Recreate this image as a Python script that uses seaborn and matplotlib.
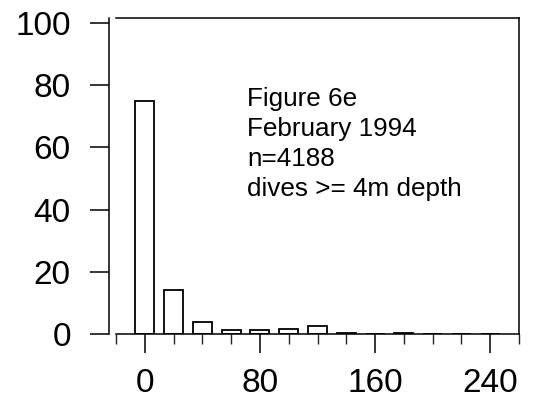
import matplotlib
matplotlib.use("Agg")
import matplotlib.pyplot as plt
import seaborn as sns
import pandas as pd
from matplotlib.ticker import MultipleLocator

# Data (bin centres and percentage of dives)
bins = [0, 20, 40, 60, 80, 100, 120, 140, 160, 180, 200, 220, 240]
percent = [75.0, 14.3, 3.8, 1.3, 1.3, 1.6, 2.7, 0.4, 0.1, 0.2, 0.0, 0.0, 0.0]
x_ticks = [0, 80, 160, 240]
y_ticks = [0, 20, 40, 60, 80, 100]
note_lines = ["Figure 6e", "February 1994", "n=4188", "dives >= 4m depth"]

sns.set_style("ticks")
plt.rcParams["font.family"] = ["Liberation Sans", "DejaVu Sans"]

W, H = 534, 412
fig = plt.figure(figsize=(W / 100, H / 100), dpi=100)
ax = fig.add_axes([116 / W, (H - 334) / H, (519 - 116) / W, (334 - 18) / H])

df = pd.DataFrame({"bin": bins, "pct": percent})
sns.barplot(data=df, x="bin", y="pct", native_scale=True, width=0.66,
            color="white", edgecolor="black", linewidth=1.3,
            errorbar=None, ax=ax)

ax.set_xlim(-20, 260)
ax.set_ylim(0, 101.6)
ax.set_xticks(x_ticks)
ax.set_xticklabels([str(v) for v in x_ticks])
ax.xaxis.set_minor_locator(MultipleLocator(20))
ax.set_yticks(y_ticks)
ax.set_yticklabels([str(v) for v in y_ticks])
ax.set_xlabel("")
ax.set_ylabel("")

for s in ax.spines.values():
    s.set_visible(True)
    s.set_linewidth(1.1)
    s.set_color("black")
ax.spines["left"].set_position(("outward", 5))

ax.tick_params(axis="both", which="major", direction="out", length=13.5,
               width=1.1, labelsize=24, colors="black")
ax.tick_params(axis="x", which="major", pad=11)
ax.tick_params(axis="y", which="major", pad=14)
ax.tick_params(axis="x", which="minor", direction="out", length=7, width=1.0)
ax.tick_params(axis="y", which="minor", left=False)

for i, line in enumerate(note_lines):
    ax.text(71, 79.5 - i * 9.7, line, fontsize=18.8, va="top", ha="left",
            color="black")

fig.savefig("out.png", dpi=100)
